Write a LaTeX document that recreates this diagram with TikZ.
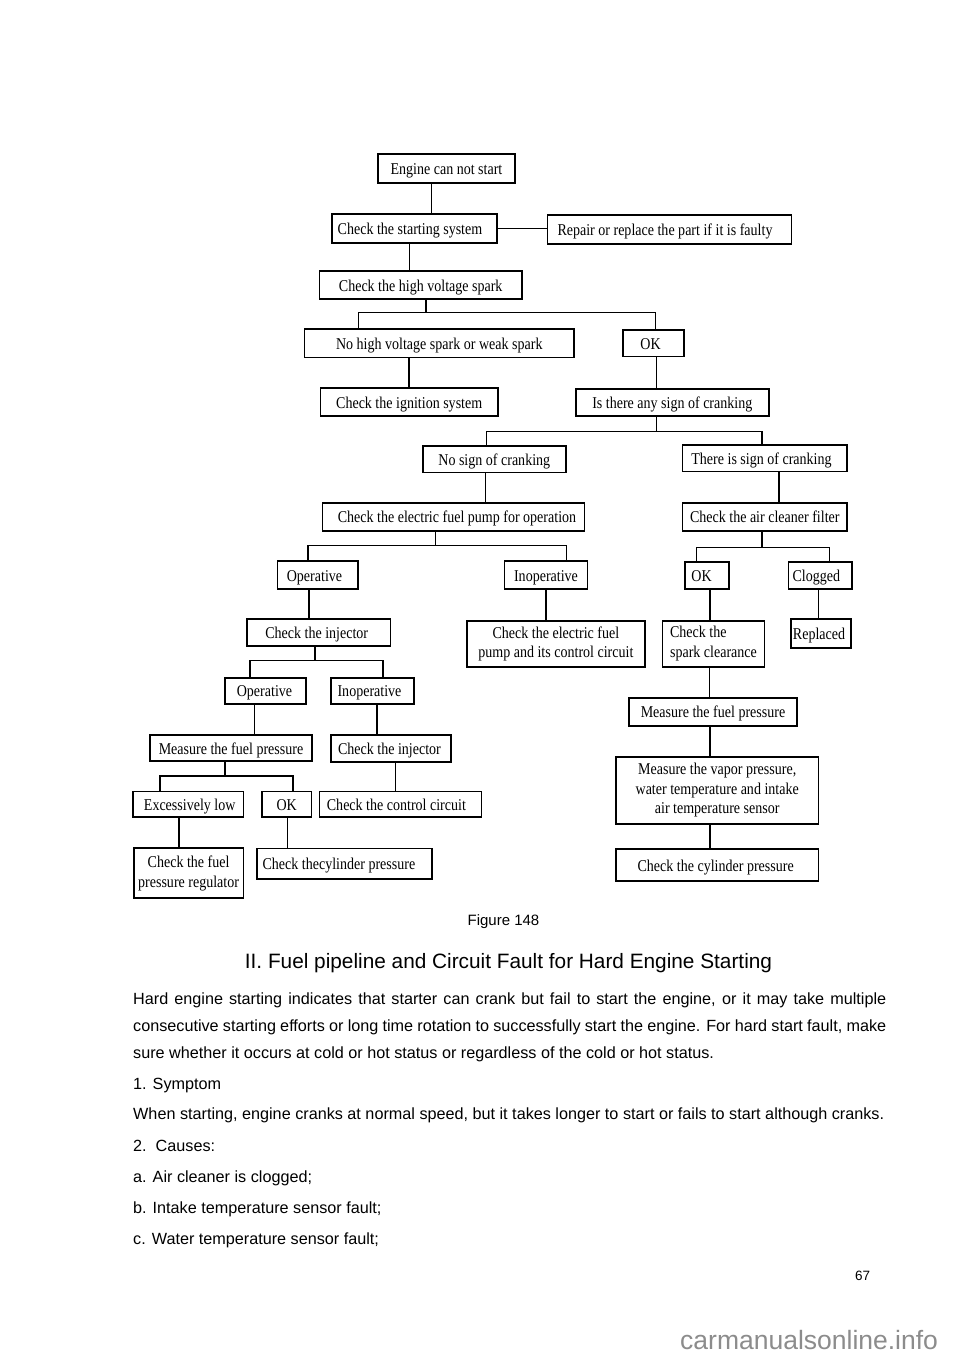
\documentclass[tikz,border=0pt]{standalone}
\usepackage{fontspec}
\newfontfamily\boxfont[FakeStretch=0.85]{Liberation Serif}
\newfontfamily\bodyfont{Liberation Sans}
\newcommand\vlink[3]{\draw[conn] ([xshift=#3]#1.south) -- ([xshift=#3]#1.south |- #2.north);}
\newcommand\tlink[7]{%
  \coordinate (bus) at (0,#3);
  \draw[conn] ([xshift=#2]#1.south) -- ([xshift=#2]#1.south |- bus);
  \draw[conn] ([xshift=#5]#4.north) -- ([xshift=#5]#4.north |- bus) -- ([xshift=#7]#6.north |- bus) -- ([xshift=#7]#6.north);}
\newcommand\sh[1]{\hspace*{#1pt}}
\tikzset{
  box/.style={draw, line width=1.7pt, inner sep=0pt, align=center,
    font=\boxfont\fontsize{16.5}{19.5}\selectfont},
  sbox/.style={box, text height=12pt, text depth=0pt},
  conn/.style={line width=1.4pt},
  body/.style={anchor=base west, inner sep=0pt, font=\bodyfont\fontsize{16.2}{19}\selectfont}
}
\begin{document}
\begin{tikzpicture}[x=1pt,y=-1pt]
\useasboundingbox[fill=white] (0,0) rectangle (960,1358);
% boxes
\node[sbox, minimum width=137, minimum height=28.7] (n1) at (446.5,168.3) {Engine can not start};
\node[sbox, minimum width=165, minimum height=28.7] (n2) at (414.5,228.3) {\sh{-9}Check the starting system};
\node[sbox, minimum width=244, minimum height=28.7] (n3) at (669.5,229.3) {\sh{-9}Repair or replace the part if it is faulty};
\node[sbox, minimum width=202.6, minimum height=28.6] (n4) at (420.7,285) {Check the high voltage spark};
\node[sbox, minimum width=269.4, minimum height=28.3] (n5) at (439.3,343.2) {No high voltage spark or weak spark};
\node[sbox, minimum width=61, minimum height=26.3] (n6) at (653.5,343.2) {\sh{-6}OK};
\node[sbox, minimum width=177.7, minimum height=28.6] (n7) at (409.2,402) {Check the ignition system};
\node[sbox, minimum width=192.7, minimum height=27] (n8) at (672.3,402.8) {Is there any sign of cranking};
\node[sbox, minimum width=143, minimum height=26.3] (n9) at (494.3,459.2) {No sign of cranking};
\node[sbox, minimum width=164.5, minimum height=26.3] (n10) at (764.8,458.2) {\sh{-6.6}There is sign of cranking};
\node[sbox, minimum width=262, minimum height=28.3] (n11) at (453.6,516.9) {\sh{6.8}Check the electric fuel pump for operation};
\node[sbox, minimum width=164.5, minimum height=28.3] (n12) at (764.8,516.9) {Check the air cleaner filter};
\node[sbox, minimum width=80.5, minimum height=28.6] (n13) at (317.8,575) {\sh{-6.6}Operative};
\node[sbox, minimum width=82.8, minimum height=28.6] (n14) at (546,575) {Inoperative};
\node[sbox, minimum width=44.4, minimum height=26.4] (n15) at (707.1,575.5) {\sh{-11}OK};
\node[sbox, minimum width=63.5, minimum height=26.4] (n16) at (820.3,575.5) {\sh{-8}Clogged};
\node[sbox, minimum width=143.8, minimum height=26.7] (n17) at (318.7,632.4) {\sh{-4}Check the injector};
\node[box, minimum width=178.2, minimum height=46] (n18) at (555.9,643.7) {Check the electric fuel\\pump and its control circuit};
\node[box, align=left, minimum width=101.8, minimum height=46] (n19) at (713.5,643.7) {Check the\\spark clearance};
\node[sbox, minimum width=60, minimum height=28.7] (n20) at (821,633.4) {\sh{-4}Replaced};
\node[sbox, minimum width=81, minimum height=26] (n21) at (265.5,690.7) {\sh{-2}Operative};
\node[sbox, minimum width=82.8, minimum height=26] (n22) at (372.3,690.7) {\sh{-5.6}Inoperative};
\node[sbox, minimum width=167.6, minimum height=28.3] (n23) at (713,711.9) {Measure the fuel pressure};
\node[sbox, minimum width=162, minimum height=26] (n24) at (231,748) {Measure the fuel pressure};
\node[sbox, minimum width=120, minimum height=27] (n25) at (391,748.5) {\sh{-3}Check the injector};
\node[box, minimum width=202.5, minimum height=67.6] (n26) at (717.2,790.5) {Measure the vapor pressure,\\water temperature and intake\\air temperature sensor};
\node[sbox, minimum width=110.4, minimum height=25.5] (n27) at (188.2,804.2) {\sh{3}Excessively low};
\node[sbox, minimum width=49.7, minimum height=25.5] (n28) at (286.7,804.2) {OK};
\node[sbox, minimum width=162, minimum height=25.5] (n29) at (400.4,804.2) {\sh{-8}Check the control circuit};
\node[box, minimum width=109.6, minimum height=50] (n30) at (188.6,873.3) {Check the fuel\\pressure regulator};
\node[sbox, minimum width=174.8, minimum height=30.7] (n31) at (344.6,863.7) {\sh{-11.4}Check thecylinder pressure};
\node[sbox, minimum width=202.5, minimum height=32] (n32) at (717.2,865) {\sh{-3}Check the cylinder pressure};
% connectors
\vlink{n1}{n2}{-14.8}
\draw[conn] (n2.east) -- (n3.west |- n2.east);
\vlink{n2}{n4}{-4.9}
\tlink{n4}{5.3}{312.7}{n5}{-80.8}{n6}{1.9}
\vlink{n5}{n7}{-30.3}
\vlink{n6}{n8}{2.9}
\tlink{n8}{-15.9}{431.7}{n9}{-7.6}{n10}{-2.8}
\vlink{n9}{n11}{-8.6}
\vlink{n10}{n12}{14.2}
\tlink{n11}{-18}{545.7}{n13}{-10}{n14}{20.6}
\tlink{n12}{-2.8}{547.3}{n15}{-10.9}{n16}{8.9}
\vlink{n13}{n17}{-9}
\vlink{n14}{n18}{-0.2}
\vlink{n15}{n19}{2.9}
\vlink{n16}{n20}{-2}
\tlink{n17}{-3.7}{660.5}{n21}{-15.5}{n22}{10.7}
\vlink{n19}{n23}{-4.2}
\vlink{n21}{n24}{-11.1}
\vlink{n22}{n25}{4.7}
\vlink{n23}{n26}{-3}
\tlink{n24}{-6}{776}{n27}{-28.2}{n28}{6.3}
\vlink{n25}{n29}{4.3}
\vlink{n26}{n32}{-7.2}
\vlink{n27}{n30}{-9.2}
\vlink{n28}{n31}{0.9}
% caption and text
\node[anchor=base, inner sep=0pt, font=\bodyfont\fontsize{15}{18}\selectfont] (cap) at (503.5,925) {Figure 148};
\node[anchor=base, inner sep=0pt, font=\bodyfont\fontsize{20.8}{24}\selectfont] (head) at (508.5,968.3) {II. Fuel pipeline and Circuit Fault for Hard Engine Starting};
\node[body] (l1) at (133,1004.5) {\makebox[753pt][s]{Hard engine starting indicates that starter can crank but fail to start the engine, or it may take multiple}};
\node[body] (l2) at (133,1031.4) {\makebox[753pt][s]{consecutive starting efforts or long time rotation to successfully start the engine. For hard start fault, make}};
\node[body] (l3) at (133,1058.3) {sure whether it occurs at cold or hot status or regardless of the cold or hot status.};
\node[body] (l4) at (133,1089.3) {1. Symptom};
\node[body] (l5) at (133,1119.3) {When starting, engine cranks at normal speed, but it takes longer to start or fails to start although cranks.};
\node[body] (l6) at (133,1151.6) {2.\ \ Causes:};
\node[body] (l7) at (133,1182.6) {a. Air cleaner is clogged;};
\node[body] (l8) at (133,1213.6) {b. Intake temperature sensor fault;};
\node[body] (l9) at (133,1244.3) {c. Water temperature sensor fault;};
\node[anchor=base west, inner sep=0pt, font=\bodyfont\fontsize{13.5}{16}\selectfont] (pg) at (855,1280) {67};
\node[anchor=base west, inner sep=0pt, text=black!45, font=\bodyfont\fontsize{26.5}{30}\selectfont] (wm) at (680,1349.3) {carmanualsonline.info};
\end{tikzpicture}
\end{document}
